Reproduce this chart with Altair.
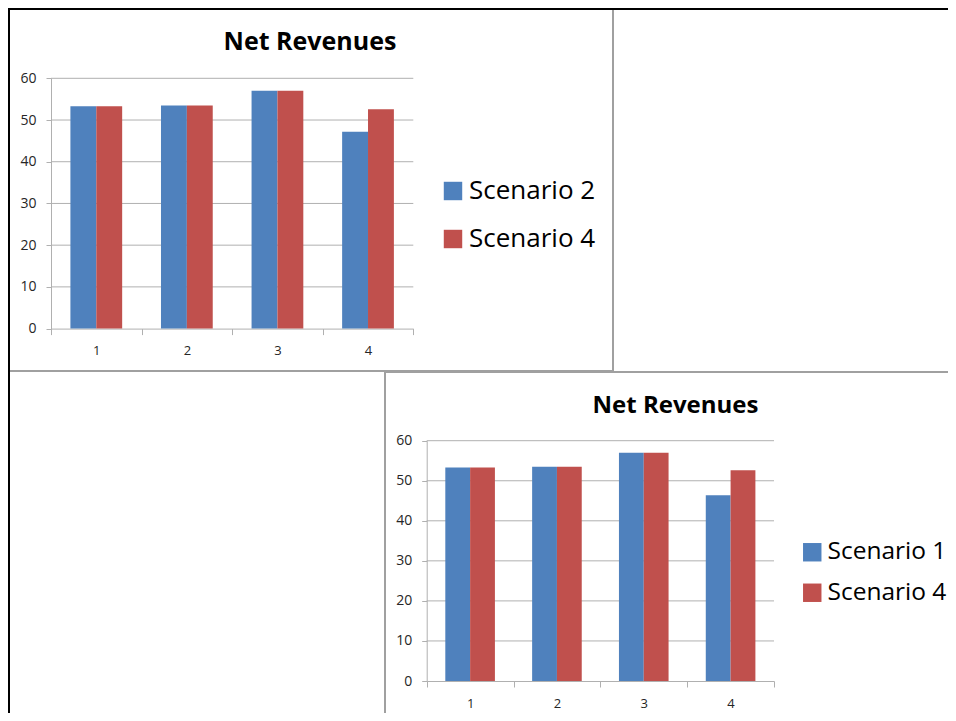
import altair as alt
import pandas as pd

# ---------------- data ----------------
categories = ["1", "2", "3", "4"]
chart_title = "Net Revenues"
y_ticks = [0, 10, 20, 30, 40, 50, 60]

top_series = ["Scenario 2", "Scenario 4"]
top_scenario_2 = [53.3, 53.5, 57.0, 47.2]
top_scenario_4 = [53.3, 53.5, 57.0, 52.6]

bottom_series = ["Scenario 1", "Scenario 4"]
bottom_scenario_1 = [53.3, 53.5, 57.0, 46.4]
bottom_scenario_4 = [53.3, 53.5, 57.0, 52.6]

colors = ["#4F81BD", "#C0504D"]

# ---------------- layout (view pixels) ----------------
W, H = 940, 705
FONT = "Open Sans"
AXIS_GRAY = "#b0b0b0"

TOP = dict(x0=43, x1=405.3, y0=320.6, y1=70.3,
           title_x=302, title_y=42, title_size=25,
           leg_x=432, leg_y=170, leg_font=26, leg_row=22,
           frame=(1, 605, 0, 363))
BOT = dict(x0=418.7, x1=766, y0=673, y1=432.7,
           title_x=667.5, title_y=404.7, title_size=24,
           leg_x=792, leg_y=532, leg_font=24.5, leg_row=15.5,
           frame=(377, 980, 364, 712))


def long_df(series, a, b):
    rows = []
    for s, vals in zip(series, [a, b]):
        for c, v in zip(categories, vals):
            rows.append({"cat": c, "series": s, "value": v})
    return pd.DataFrame(rows)


def panel(df, series, L):
    x_enc = alt.X(
        "cat:N", sort=categories, title=None,
        scale=alt.Scale(domain=categories, range=[L["x0"], L["x1"]],
                        paddingInner=0, paddingOuter=0),
        axis=alt.Axis(orient="bottom", offset=L["y0"] - H, tickBand="extent",
                      labelAngle=0, domainColor=AXIS_GRAY, tickColor=AXIS_GRAY,
                      tickSize=6, labelPadding=10, labelFont=FONT,
                      labelFontSize=13, labelColor="#262626", grid=False),
    )
    y_enc = alt.Y(
        "value:Q", title=None,
        scale=alt.Scale(domain=[0, 60], range=[L["y0"], L["y1"]], nice=False, zero=True),
        axis=alt.Axis(orient="left", offset=-L["x0"], values=y_ticks, grid=False,
                      domainColor=AXIS_GRAY, tickColor=AXIS_GRAY, tickSize=5,
                      labelPadding=10, labelFont=FONT, labelFontSize=14,
                      labelColor="#262626"),
    )
    color_enc = alt.Color(
        "series:N", sort=series,
        scale=alt.Scale(domain=series, range=colors),
        legend=alt.Legend(orient="none", legendX=L["leg_x"], legendY=L["leg_y"],
                          title=None, symbolType="square", symbolSize=340,
                          symbolStrokeWidth=0, labelFont=FONT,
                          labelFontSize=L["leg_font"], labelColor="black",
                          rowPadding=L["leg_row"], labelOffset=3),
    )
    xoff_enc = alt.XOffset(
        "series:N", sort=series,
        scale=alt.Scale(domain=series, paddingInner=0, paddingOuter=0.75),
    )

    fx0, fx1, fy0, fy1 = L["frame"]
    frame = alt.Chart(pd.DataFrame({"k": [0]})).mark_rect(
        filled=False, stroke="#a0a0a0", strokeWidth=2, fill=None
    ).encode(x=alt.value(fx0), x2=alt.value(fx1), y=alt.value(fy0), y2=alt.value(fy1))

    grid_df = pd.DataFrame({"value": y_ticks[1:]})
    grid = alt.Chart(grid_df).mark_rule(color=AXIS_GRAY, strokeWidth=1).encode(
        y=y_enc, x=alt.value(L["x0"]), x2=alt.value(L["x1"])
    )

    bars = alt.Chart(df).mark_bar().encode(
        x=x_enc, y=y_enc, color=color_enc, xOffset=xoff_enc
    )

    title = alt.Chart(pd.DataFrame({"t": [chart_title]})).mark_text(
        font=FONT, fontWeight="bold", fontSize=L["title_size"], color="black",
        align="center", baseline="alphabetic"
    ).encode(text="t:N", x=alt.value(L["title_x"]), y=alt.value(L["title_y"]))

    return alt.layer(frame, grid, bars, title)


top_df = long_df(top_series, top_scenario_2, top_scenario_4)
bot_df = long_df(bottom_series, bottom_scenario_1, bottom_scenario_4)

top_panel = panel(top_df, top_series, TOP)
bot_panel = panel(bot_df, bottom_series, BOT)

border_df = pd.DataFrame({"k": [0]})
left_border = alt.Chart(border_df).mark_rule(color="black", strokeWidth=3).encode(
    x=alt.value(0.5), y=alt.value(0), y2=alt.value(H)
)
top_border = alt.Chart(border_df).mark_rule(color="black", strokeWidth=3).encode(
    x=alt.value(0), x2=alt.value(W), y=alt.value(0.5)
)

chart = alt.layer(bot_panel, top_panel, left_border, top_border).resolve_scale(
    x="independent", y="independent", color="independent", xOffset="independent"
).resolve_axis(
    x="independent", y="independent"
).resolve_legend(
    color="independent"
).properties(
    width=W, height=H, padding=0,
    autosize=alt.AutoSizeParams(type="none"),
    background="white",
).configure_view(stroke=None)

chart.save("out.html", embed_options={"renderer": "svg", "actions": False})
